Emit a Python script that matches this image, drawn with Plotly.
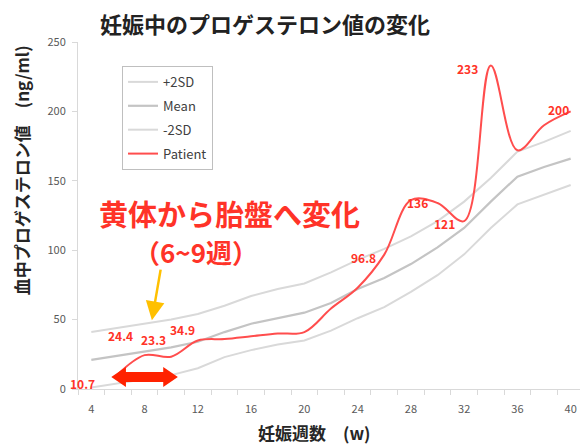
import plotly.graph_objects as go

# ---- data ----
weeks = [4, 6, 8, 10, 12, 14, 16, 18, 20, 22, 24, 26, 28, 30, 32, 34, 36, 38, 40]
plus2sd = [41, 44, 47, 50, 54, 60, 67, 72, 76, 84, 93, 101, 110, 121, 135, 152, 171, 178, 186]
mean_v = [21, 24, 27, 30, 34, 41, 47, 51, 55, 62, 72, 80, 90, 102, 116, 135, 153, 160, 166]
minus2sd = [1, 4, 7, 10, 15, 23, 28, 32, 35, 42, 51, 59, 70, 82, 97, 116, 133, 140, 147]

patient_weeks = [6, 8, 10, 12, 14, 16, 18, 20, 22, 24, 26, 28, 30, 32, 34, 36, 38, 40]
patient = [10.7, 24.4, 23.3, 34.9, 36, 38, 40, 41, 58, 73, 96.8, 136, 134, 121, 233, 172, 190, 200]

# labelled patient points: (week, value, text, xshift, yshift)
point_labels = [
    (6, 10.7, "10.7", -35, -9),
    (8, 24.4, "24.4", -24, 20),
    (10, 23.3, "23.3", -18, 17),
    (12, 34.9, "34.9", -15, 11),
    (26, 96.8, "96.8", -21, -3),
    (28, 136, "136", 7, -2),
    (32, 121, "121", -20, -2),
    (34, 233, "233", -23, -3),
    (40, 200, "200", -12, 2),
]

x_ticks = [4, 8, 12, 16, 20, 24, 28, 32, 36, 40]
y_ticks = [0, 50, 100, 150, 200, 250]

FONT = "Noto Sans CJK JP"
RED_TXT = "#FF3328"

fig = go.Figure()
fig.add_trace(go.Scatter(x=weeks, y=plus2sd, name="+2SD", mode="lines",
                         line=dict(color="#d9d9d9", width=2), legendgroup="a"))
fig.add_trace(go.Scatter(x=weeks, y=mean_v, name="Mean", mode="lines",
                         line=dict(color="#c4c4c4", width=2.2), legendgroup="b"))
fig.add_trace(go.Scatter(x=weeks, y=minus2sd, name="-2SD", mode="lines",
                         line=dict(color="#d9d9d9", width=2), legendgroup="c"))
fig.add_trace(go.Scatter(x=patient_weeks, y=patient, name="Patient", mode="lines",
                         line=dict(color="#FF4D4D", width=2, shape="spline", smoothing=1),
                         legendgroup="d"))

annotations = []
for w, v, t, dx, dy in point_labels:
    annotations.append(dict(x=w, y=v, xref="x", yref="y", text=t, showarrow=False,
                            xshift=dx, yshift=dy, xanchor="center", yanchor="middle",
                            font=dict(family=FONT, size=12, color=RED_TXT, weight="bold")))

annotations += [
    dict(x=0.300, y=0.507, xref="paper", yref="paper", text="黄体から胎盤へ変化",
         xanchor="center", yanchor="middle",
         showarrow=False, font=dict(family=FONT, size=29, color=RED_TXT, weight="bold")),
    dict(x=0.233, y=0.395, xref="paper", yref="paper", text="（6~9週）",
         xanchor="center", yanchor="middle",
         showarrow=False, font=dict(family=FONT, size=26, color=RED_TXT, weight="bold")),
    dict(x=8.55, y=49.6, xref="x", yref="y", ax=9, ay=-52, text="", showarrow=True,
         arrowhead=2, arrowsize=1.5, arrowwidth=2.5, arrowcolor="#FFC000"),
    dict(x=-0.111, y=0.63, xref="paper", yref="paper", text="血中プロゲステロン値　(ng/ml)",
         textangle=-90, showarrow=False, xanchor="center", yanchor="middle",
         font=dict(family=FONT, size=17, color="#262626", weight="bold")),
    dict(x=0.468, y=-0.124, xref="paper", yref="paper", text="妊娠週数　(w)",
         showarrow=False, xanchor="center", yanchor="middle",
         font=dict(family=FONT, size=17, color="#262626", weight="bold")),
]

# double-headed red arrow (6~9 weeks)
fig.add_shape(type="path",
              path="M 5.5 8.6 L 6.6 15.8 L 6.6 12.2 L 9.4 12.2 L 9.4 15.8 L 10.5 8.6 "
                   "L 9.4 1.4 L 9.4 5.0 L 6.6 5.0 L 6.6 1.4 Z",
              xref="x", yref="y", fillcolor="#FF2200", line=dict(width=0))

fig.update_layout(
    width=588, height=445,
    margin=dict(l=70, r=12, t=34, b=64),
    paper_bgcolor="white", plot_bgcolor="white",
    title=dict(text="妊娠中のプロゲステロン値の変化", x=0.437, xref="container",
               y=0.961, yref="container", xanchor="center", yanchor="middle",
               font=dict(family=FONT, size=22, color="#222222", weight="bold")),
    showlegend=True,
    legend=dict(x=0.087, y=0.931, xanchor="left", yanchor="top",
                bordercolor="#bfbfbf", borderwidth=1, bgcolor="white",
                tracegroupgap=4,
                font=dict(family=FONT, size=13, color="#404040")),
    annotations=annotations,
    font=dict(family=FONT),
)
fig.update_xaxes(range=[3, 41], tickvals=x_ticks, ticks="", showgrid=False,
                 showline=True, linecolor="#d9d9d9", linewidth=1, zeroline=False,
                 tickfont=dict(family=FONT, size=11, color="#595959"),
                 ticklabelstandoff=10,
                 minor=dict(tick0=3, dtick=2, ticks="outside", ticklen=5,
                            tickcolor="#d9d9d9", showgrid=False))
fig.update_yaxes(range=[0, 250], tickvals=y_ticks, ticks="outside", ticklen=5,
                 tickcolor="#d9d9d9", showgrid=False, showline=True,
                 linecolor="#d9d9d9", linewidth=1, zeroline=False,
                 tickfont=dict(family=FONT, size=11, color="#595959"),
                 ticklabelstandoff=4)

fig.write_html("out.html")
